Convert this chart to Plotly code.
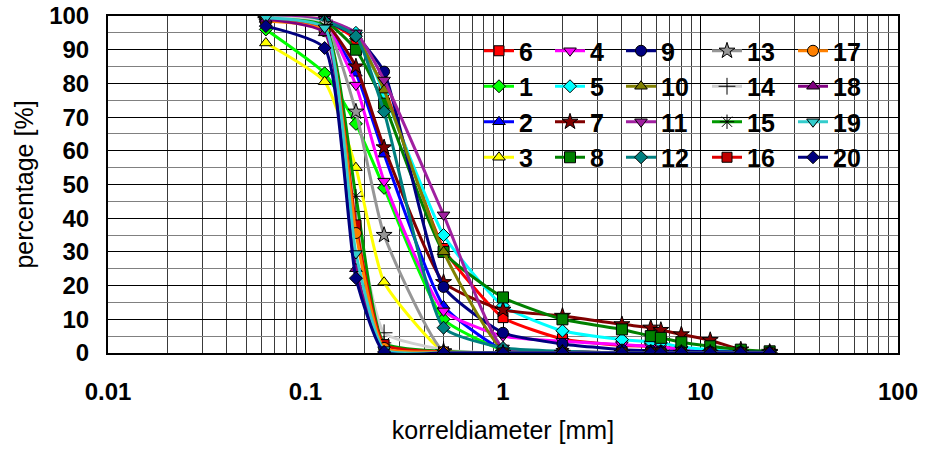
import plotly.graph_objects as go

# Sieve sizes (mm)
sieves = [0.063, 0.125, 0.18, 0.25, 0.5, 1, 2, 4, 5.6, 6.3, 8, 11.2, 16, 22.4]

# Percentage passing per sample
s6 = [99.5, 98.5, 93, 78.5, 31, 10.5, 4.2, 2.2, 2, 1.8, 1.2, 0.6, 0.3, 0]
s1 = [96, 83, 68, 49, 10, 1, 0.3, 0, 0, 0, 0, 0, 0, 0]
s2 = [99, 97, 83, 59, 14, 1, 0.3, 0, 0, 0, 0, 0, 0, 0]
s3 = [92, 80.5, 55, 21, 0.5, 0, 0, 0, 0, 0, 0, 0, 0, 0]
s4 = [99, 97.5, 79.5, 51, 12.5, 5, 3.5, 2.5, 2, 1.8, 1, 0.5, 0.2, 0]
s5 = [99.5, 98.5, 95, 77, 35, 14, 6.6, 4, 3.3, 3, 1.8, 1, 0.3, 0]
s7 = [99, 98, 85, 61, 21, 12.8, 11, 8.5, 7.5, 6.8, 5.5, 3.8, 1, 0.3]
s8 = [99.5, 98.5, 90, 74, 30, 16.5, 10, 7, 5, 4.5, 3.2, 2, 1, 0.5]
s9 = [99.5, 98.5, 94, 83.5, 19.6, 6, 2.7, 1, 0.7, 0.6, 0.5, 0.4, 0.3, 0.2]
s10 = [99.5, 99, 94, 78, 30, 1, 0.5, 0, 0, 0, 0, 0, 0, 0]
s11 = [100, 99, 95, 81, 41, 1.5, 0.5, 0, 0, 0, 0, 0, 0, 0]
s12 = [99.5, 98.5, 94, 71.6, 7.5, 1.5, 0.5, 0, 0, 0, 0, 0, 0, 0]
s13 = [99, 97.5, 71.6, 35, 0.5, 0, 0, 0, 0, 0, 0, 0, 0, 0]
s14 = [99.5, 97.5, 42, 6, 1, 0, 0, 0, 0, 0, 0, 0, 0, 0]
s15 = [99, 97, 46.5, 3, 0.5, 0, 0, 0, 0, 0, 0, 0, 0, 0]
s16 = [99, 96, 38, 2.5, 0.3, 0, 0, 0, 0, 0, 0, 0, 0, 0]
s17 = [98.5, 95.5, 35.6, 1.5, 0.3, 0, 0, 0, 0, 0, 0, 0, 0, 0]
s18 = [99, 95, 25, 0.5, 0, 0, 0, 0, 0, 0, 0, 0, 0, 0]
s19 = [99.5, 96.5, 29.5, 1, 0, 0, 0, 0, 0, 0, 0, 0, 0, 0]
s20 = [97, 90.5, 22.2, 0.3, 0, 0, 0, 0, 0, 0, 0, 0, 0, 0]

names = ["6", "1", "2", "3", "4", "5", "7", "8", "9", "10",
         "11", "12", "13", "14", "15", "16", "17", "18", "19", "20"]
values = [s6, s1, s2, s3, s4, s5, s7, s8, s9, s10,
          s11, s12, s13, s14, s15, s16, s17, s18, s19, s20]

# (line colour, marker fill, marker symbol, marker size)
styles = {
    "6": ("#FF0000", "#FF0000", "square", 10),
    "1": ("#00FF00", "#00FF00", "diamond", 10),
    "2": ("#0000FF", "#0000FF", "triangle-up", 11),
    "3": ("#FFFF00", "#FFFF00", "triangle-up", 11),
    "4": ("#FF00FF", "#FF00FF", "triangle-down", 11),
    "5": ("#00FFFF", "#00FFFF", "diamond", 10),
    "7": ("#800000", "#800000", "star", 12),
    "8": ("#008000", "#008000", "square", 11),
    "9": ("#000080", "#000080", "circle", 11),
    "10": ("#808000", "#808000", "triangle-up", 11),
    "11": ("#A020A0", "#A020A0", "triangle-down", 11),
    "12": ("#008080", "#008080", "diamond", 10),
    "13": ("#969696", "#969696", "star", 12),
    "14": ("#D0D0D0", "#000000", "cross-thin-open", 12),
    "15": ("#009900", "#000000", "asterisk-open", 12),
    "16": ("#E00000", "#C00000", "square", 10),
    "17": ("#FF8000", "#FF8000", "circle", 11),
    "18": ("#800080", "#800080", "triangle-up", 11),
    "19": ("#33CCCC", "#33CCCC", "triangle-down", 11),
    "20": ("#000080", "#000080", "diamond", 10),
}

fig = go.Figure()
for i, (name, vals) in enumerate(zip(names, values)):
    lc, mc, sym, ms = styles[name]
    fig.add_trace(go.Scatter(
        x=sieves, y=vals, name=name, mode="lines+markers",
        line=dict(color=lc, width=3, shape="spline", smoothing=0.5),
        marker=dict(symbol=sym, size=ms, color=mc,
                    line=dict(color="#000000", width=1)),
        legend="legend" if i < 4 else f"legend{i // 4 + 1}",
    ))

L, R, T, B = 108, 29, 16, 98
W, H = 927, 451
pw, ph = W - L - R, H - T - B

legend_font = dict(family="Arial, Liberation Sans", size=25, color="#000000", weight="bold")
col_left_px = [479, 550, 621, 707, 793]
legends = {}
for k, xpx in enumerate(col_left_px):
    key = "legend" if k == 0 else f"legend{k + 1}"
    legends[key] = dict(
        x=(xpx - L) / pw, y=(T + ph - 28) / ph, xanchor="left", yanchor="top",
        bgcolor="rgba(0,0,0,0)", borderwidth=0, font=legend_font,
        tracegroupgap=0, itemwidth=30,
    )

tick_font = dict(family="Arial, Liberation Sans", size=24, color="#000000", weight="bold")
title_font = dict(family="Arial, Liberation Sans", size=25, color="#000000")

fig.update_layout(
    width=W, height=H,
    margin=dict(l=L, r=R, t=T, b=B, autoexpand=False),
    paper_bgcolor="white", plot_bgcolor="white",
    **legends,
    xaxis=dict(
        type="log", range=[-2, 2], tickvals=[0.01, 0.1, 1, 10, 100],
        ticktext=["0.01", "0.1", "1", "10", "100"],
        showgrid=True, gridcolor="#000000", gridwidth=1,
        minor=dict(dtick="D1", showgrid=True, gridcolor="#3a3a3a", gridwidth=1),
        showline=True, linecolor="#000000", linewidth=2, mirror=True,
        ticks="", tickfont=tick_font, ticklabelstandoff=16,
        title=dict(text="korreldiameter [mm]", font=title_font, standoff=18),
        zeroline=False, automargin=False,
    ),
    yaxis=dict(
        range=[0, 100], dtick=10,
        showgrid=True, gridcolor="#000000", gridwidth=1,
        minor=dict(dtick=5, showgrid=True, gridcolor="#808080", gridwidth=1),
        showline=True, linecolor="#000000", linewidth=2, mirror=True,
        ticks="", tickfont=tick_font, ticklabelstandoff=12,
        title=dict(text="percentage [%]", font=title_font, standoff=8),
        zeroline=False, automargin=False,
    ),
)

fig.write_html("out.html")
